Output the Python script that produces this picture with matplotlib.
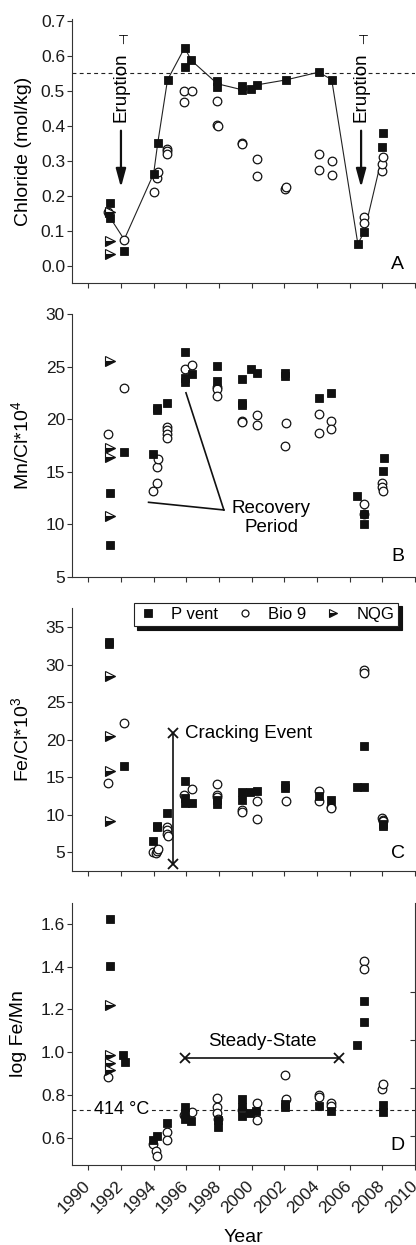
import matplotlib
matplotlib.use("Agg")
import matplotlib.pyplot as plt
from matplotlib.lines import Line2D

plt.rcParams['font.family'] = ['Liberation Sans', 'DejaVu Sans']
plt.rcParams['mathtext.fontset'] = 'custom'
plt.rcParams['mathtext.rm'] = 'Liberation Sans'
plt.rcParams['mathtext.it'] = 'Liberation Sans'

# ---------------- data ----------------
year_ticks = [1990, 1992, 1994, 1996, 1998, 2000, 2002, 2004, 2006, 2008, 2010]

# Panel A: Chloride (mol/kg)
pvent_A_year = [1991.3, 1991.3, 1992.2, 1994.0, 1994.25, 1994.85, 1995.9, 1995.9, 1996.3, 1997.9, 1997.9,
                1999.4, 1999.4, 1999.95, 2000.35, 2002.1, 2004.1, 2004.9, 2006.5, 2006.9, 2008.0, 2008.05]
pvent_A_val = [0.178, 0.136, 0.043, 0.263, 0.350, 0.531, 0.623, 0.568, 0.587, 0.528, 0.512,
               0.515, 0.502, 0.506, 0.517, 0.531, 0.553, 0.532, 0.063, 0.097, 0.340, 0.380]
bio9_A_year = [1991.2, 1992.2, 1994.0, 1994.2, 1994.25, 1994.8, 1994.8, 1994.82, 1995.85, 1995.85, 1996.35,
               1997.9, 1997.9, 1997.92, 1999.4, 1999.42, 2000.35, 2000.35, 2002.05, 2002.12, 2004.1, 2004.1,
               2004.9, 2004.9, 2006.85, 2006.88, 2007.95, 2008.0, 2008.05]
bio9_A_val = [0.155, 0.075, 0.211, 0.250, 0.267, 0.335, 0.327, 0.320, 0.499, 0.469, 0.500,
              0.472, 0.402, 0.398, 0.350, 0.347, 0.305, 0.256, 0.218, 0.225, 0.320, 0.275,
              0.300, 0.260, 0.140, 0.122, 0.270, 0.292, 0.311]
nqg_A_year = [1991.3, 1991.3, 1991.3]
nqg_A_val = [0.155, 0.072, 0.035]
trend_A_year = [1991.3, 1992.2, 1994.0, 1994.25, 1994.85, 1995.9, 1996.3, 1997.9, 1999.4, 1999.95,
                2000.35, 2002.1, 2004.1, 2004.9, 2006.5, 2006.9, 2008.0]
trend_A_val = [0.14, 0.075, 0.263, 0.350, 0.531, 0.623, 0.587, 0.52, 0.503, 0.506,
               0.517, 0.531, 0.553, 0.532, 0.063, 0.097, 0.315]
seawater_cl = 0.55
eruption_years = [1992.0, 2006.7]

# Panel B: Mn/Cl*10^4
pvent_B_year = [1991.3, 1991.3, 1992.2, 1993.95, 1994.18, 1994.22, 1994.83, 1995.9, 1995.9, 1995.9, 1996.32,
                1997.9, 1997.9, 1999.4, 1999.4, 1999.42, 1999.95, 2000.33, 2002.07, 2002.07, 2004.13, 2004.88,
                2006.48, 2006.88, 2006.88, 2008.03, 2008.08]
pvent_B_val = [13.0, 8.0, 16.85, 16.7, 21.1, 20.85, 21.55, 26.4, 23.95, 23.55, 24.3,
               25.05, 23.65, 23.8, 21.5, 21.3, 24.8, 24.4, 24.35, 24.1, 22.0, 22.45,
               12.7, 10.95, 9.97, 15.05, 16.25]
bio9_B_year = [1991.22, 1992.2, 1993.97, 1994.2, 1994.2, 1994.25, 1994.83, 1994.83, 1994.83, 1994.83,
               1995.9, 1996.35, 1997.9, 1997.9, 1997.9, 1999.42, 1999.42, 2000.33, 2000.33, 2002.07, 2002.12,
               2004.13, 2004.13, 2004.88, 2004.88, 2006.9, 2006.9, 2007.98, 2007.98, 2008.05]
bio9_B_val = [18.55, 22.98, 13.2, 13.96, 15.4, 16.2, 19.25, 18.93, 18.6, 18.17,
              24.74, 25.15, 23.08, 22.83, 22.2, 19.82, 19.7, 20.39, 19.44, 17.45, 19.6,
              20.48, 18.66, 19.82, 19.1, 11.9, 10.93, 13.9, 13.5, 13.2]
nqg_B_year = [1991.3, 1991.3, 1991.3, 1991.3]
nqg_B_val = [25.53, 17.29, 16.43, 10.78]
recovery_tip = (1998.3, 11.35)
recovery_ends_year = [1995.98, 1993.69]
recovery_ends_val = [22.5, 12.08]

# Panel C: Fe/Cl*10^3
pvent_C_year = [1991.27, 1991.27, 1992.2, 1993.98, 1994.22, 1994.22, 1994.83, 1995.9, 1995.9, 1995.9, 1996.32,
                1997.9, 1997.9, 1999.42, 1999.42, 1999.9, 2000.3, 2002.07, 2002.07, 2004.13, 2004.88,
                2006.47, 2006.9, 2006.9, 2008.03, 2008.03]
pvent_C_val = [33.0, 32.7, 16.45, 6.5, 8.46, 8.3, 10.18, 14.5, 12.2, 11.5, 11.55,
               12.0, 11.4, 12.97, 11.9, 12.97, 13.1, 13.95, 13.6, 12.5, 11.9,
               13.73, 13.73, 19.15, 8.8, 8.55]
bio9_C_year = [1991.22, 1992.2, 1993.97, 1994.15, 1994.2, 1994.25, 1994.83, 1994.83, 1994.83, 1994.85,
               1995.85, 1996.35, 1997.9, 1997.9, 1997.9, 1999.4, 1999.42, 2000.33, 2000.33, 2002.12,
               2004.13, 2004.13, 2004.88, 2004.88, 2006.9, 2006.9, 2007.98, 2008.02, 2008.05]
bio9_C_val = [14.17, 22.28, 5.0, 4.9, 5.1, 5.45, 8.3, 7.9, 7.4, 7.1,
              12.67, 13.4, 14.1, 12.67, 12.3, 10.6, 10.35, 11.77, 9.44, 11.77,
              13.1, 11.77, 11.07, 10.85, 29.3, 28.9, 9.5, 9.3, 9.1]
nqg_C_year = [1991.3, 1991.3, 1991.3, 1991.3]
nqg_C_val = [28.5, 20.5, 15.77, 9.12]
cracking_year = 1995.2
cracking_range = [3.39, 20.82]

# Panel D: log Fe/Mn
pvent_D_year = [1991.3, 1991.3, 1992.15, 1992.22, 1993.98, 1994.18, 1994.83, 1995.9, 1995.9, 1995.9, 1996.28,
                1997.95, 1997.97, 1999.4, 1999.4, 1999.4, 1999.9, 2000.28, 2002.07, 2002.07, 2004.13, 2004.88,
                2006.48, 2006.9, 2006.9, 2008.03, 2008.05]
pvent_D_val = [1.619, 1.403, 0.987, 0.957, 0.592, 0.612, 0.673, 0.745, 0.716, 0.688, 0.683,
               0.685, 0.652, 0.783, 0.745, 0.705, 0.716, 0.728, 0.759, 0.746, 0.75, 0.727,
               1.034, 1.142, 1.24, 0.755, 0.724]
bio9_D_year = [1991.22, 1993.95, 1994.15, 1994.2, 1994.83, 1994.83, 1995.85, 1996.32, 1997.89, 1997.89,
               1997.89, 1997.92, 1999.42, 2000.33, 2000.33, 2002.05, 2002.1, 2004.13, 2004.13, 2004.88,
               2004.88, 2006.9, 2006.9, 2007.98, 2008.05]
bio9_D_val = [0.884, 0.575, 0.54, 0.518, 0.631, 0.592, 0.708, 0.722, 0.786, 0.747,
              0.716, 0.69, 0.73, 0.766, 0.685, 0.894, 0.783, 0.801, 0.794, 0.763,
              0.75, 1.425, 1.387, 0.828, 0.853]
nqg_D_year = [1991.3, 1991.3, 1991.3, 1991.3]
nqg_D_val = [1.22, 0.99, 0.952, 0.918]
temp_414_logfemn = 0.734
steady_years = [1995.95, 2005.35]
steady_val = 0.975

# ---------------- figure ----------------
W, H = 416, 1245
fig = plt.figure(figsize=(W / 100, H / 100), dpi=100)

def px_axes(top, bottom, left=71.95, right=415.0):
    return [left / W, 1 - bottom / H, (right - left) / W, (bottom - top) / H]

axA = fig.add_axes(px_axes(19, 283.3))
axB = fig.add_axes(px_axes(314, 576.7))
axC = fig.add_axes(px_axes(608.3, 871))
axD = fig.add_axes(px_axes(902.7, 1165))
axes = [axA, axB, axC, axD]

spine_col = '#333333'
FS_ANN = 13.5
for ax in axes:
    ax.set_xlim(1989, 2010)
    ax.set_xticks(year_ticks)
    for s in ['top', 'right']:
        ax.spines[s].set_visible(False)
    for s in ['left', 'bottom']:
        ax.spines[s].set_linewidth(0.8)
        ax.spines[s].set_color(spine_col)
    ax.tick_params(direction='out', length=3.5, width=0.8, color=spine_col,
                   labelsize=12.5, pad=1.5, labelcolor='#1a1a1a')
    ax.patch.set_alpha(0)

for ax in [axA, axB, axC]:
    ax.tick_params(axis='x', labelbottom=False)

sq_kw = dict(linestyle='none', marker='s', ms=5.6, mfc='#111111', mec='#111111', mew=0.6, zorder=4)
ci_kw = dict(linestyle='none', marker='o', ms=6.2, mfc='white', mec='#111111', mew=0.9, zorder=3)
tr_kw = dict(linestyle='none', marker='>', ms=6.5, mfc='#111111', mfcalt='white', fillstyle='bottom',
             mec='#111111', mew=0.8, zorder=5)

def draw_series(ax, by, bv, py, pv, ny, nv):
    ax.plot(by, bv, **ci_kw)
    ax.plot(py, pv, **sq_kw)
    ax.plot(ny, nv, **tr_kw)

dash = (0, (3.5, 3.0))

# Panel A
axA.set_ylim(-0.05, 0.705)
axA.set_yticks([0.0, 0.1, 0.2, 0.3, 0.4, 0.5, 0.6, 0.7])
axA.yaxis.set_major_formatter(matplotlib.ticker.FormatStrFormatter('%.1f'))
axA.axhline(seawater_cl, color='#222222', lw=0.8, ls=dash, zorder=1)
axA.plot(trend_A_year, trend_A_val, color='#222222', lw=0.8, zorder=2)
draw_series(axA, bio9_A_year, bio9_A_val, pvent_A_year, pvent_A_val, nqg_A_year, nqg_A_val)
axA.set_ylabel('Chloride (mol/kg)', fontsize=14)
for ey in eruption_years:
    axA.text(ey, 0.51, 'Eruption', rotation=90, ha='center', va='center', fontsize=FS_ANN)
    axA.text(ey + 0.15, 0.643, '\u22a4', ha='center', va='center', fontsize=9,
             family=['DejaVu Sans'])
    axA.annotate('', xy=(ey, 0.224), xytext=(ey, 0.386),
                 arrowprops=dict(arrowstyle='-|>,head_width=0.3,head_length=1.1', lw=1.6,
                                 color='#111111', shrinkA=0, shrinkB=0, mutation_scale=10))
axA.text(0.95, 0.07, 'A', transform=axA.transAxes, ha='center', va='center', fontsize=14)

# Panel B
axB.set_ylim(5, 30)
axB.set_yticks([5, 10, 15, 20, 25, 30])
draw_series(axB, bio9_B_year, bio9_B_val, pvent_B_year, pvent_B_val, nqg_B_year, nqg_B_val)
axB.set_ylabel(r'Mn/Cl*10$^{\mathrm{4}}$', fontsize=14)
for ry, rv in zip(recovery_ends_year, recovery_ends_val):
    axB.plot([recovery_tip[0], ry], [recovery_tip[1], rv], color='#111111', lw=1.2, zorder=2)
axB.text(2001.2, 10.55, 'Recovery\nPeriod', ha='center', va='center', fontsize=FS_ANN,
         linespacing=1.15)
axB.text(0.95, 0.076, 'B', transform=axB.transAxes, ha='center', va='center', fontsize=14)

# Panel C
axC.set_ylim(2.5, 37.5)
axC.set_yticks([5, 10, 15, 20, 25, 30, 35])
draw_series(axC, bio9_C_year, bio9_C_val, pvent_C_year, pvent_C_val, nqg_C_year, nqg_C_val)
axC.set_ylabel(r'Fe/Cl*10$^{\mathrm{3}}$', fontsize=14)
axC.plot([cracking_year, cracking_year], cracking_range, color='#111111', lw=1.2,
         marker='x', ms=7, mew=1.3, zorder=2)
axC.text(cracking_year + 0.75, cracking_range[1], 'Cracking Event', ha='left', va='center',
         fontsize=FS_ANN)
axC.text(0.95, 0.067, 'C', transform=axC.transAxes, ha='center', va='center', fontsize=14)

handles = [Line2D([], [], **{**sq_kw, 'ms': 5.2}),
           Line2D([], [], **{**ci_kw, 'ms': 5.0}),
           Line2D([], [], **{**tr_kw, 'ms': 5.5})]
leg = axC.legend(handles, ['P vent', 'Bio 9', 'NQG'], ncol=3, loc='upper right',
                 bbox_to_anchor=(398.3 / W, 1 - 602.7 / H), bbox_transform=fig.transFigure,
                 borderaxespad=0, fontsize=12, frameon=True, fancybox=False,
                 shadow={'color': '#111111', 'alpha': 1, 'ox': 2.5, 'oy': -2.5},
                 handlelength=1.2, handletextpad=0.8, columnspacing=1.0, borderpad=0.25,
                 edgecolor='#222222', framealpha=1)
leg.get_frame().set_linewidth(0.8)

# Panel D
axD.set_ylim(0.476, 1.697)
axD.set_yticks([0.6, 0.8, 1.0, 1.2, 1.4, 1.6])
axD.yaxis.set_major_formatter(matplotlib.ticker.FormatStrFormatter('%.1f'))
axD.axhline(temp_414_logfemn, color='#222222', lw=0.8, ls=dash, zorder=1)
draw_series(axD, bio9_D_year, bio9_D_val, pvent_D_year, pvent_D_val, nqg_D_year, nqg_D_val)
axD.set_ylabel('log Fe/Mn', fontsize=14)
axD.text(1992.05, temp_414_logfemn, '414 \u00b0C', ha='center', va='center', fontsize=13,
         bbox=dict(facecolor='white', edgecolor='none', pad=0.5), zorder=2)
axD.plot(steady_years, [steady_val, steady_val], color='#111111', lw=1.2, marker='x',
         ms=7, mew=1.3, zorder=2)
axD.text(sum(steady_years) / 2, 1.053, 'Steady-State', ha='center', va='center',
         fontsize=FS_ANN)
axD.text(0.95, 0.074, 'D', transform=axD.transAxes, ha='center', va='center', fontsize=14)
axD.set_xlabel('Year', fontsize=14, labelpad=9)
for lab in axD.get_xticklabels():
    lab.set_rotation(45)
    lab.set_ha('right')
    lab.set_va('center')
    lab.set_rotation_mode('anchor')
axD.tick_params(axis='x', pad=10)

# secondary axis ticks visible at the right edge of panel D
axD2 = axD.twinx()
axD2.set_ylim(-0.604, 4.86)
axD2.set_yticks([0, 1, 2, 3])
axD2.tick_params(direction='in', length=3.5, width=0.8, color=spine_col, labelright=False)
for s in ['top', 'left', 'bottom']:
    axD2.spines[s].set_visible(False)
axD2.spines['right'].set_linewidth(0.8)
axD2.spines['right'].set_color(spine_col)

for ax in axes:
    ax.yaxis.set_label_coords(-0.117, 0.5)
axD.yaxis.set_label_coords(-0.13, 0.5)

fig.savefig('out.png', dpi=100)
